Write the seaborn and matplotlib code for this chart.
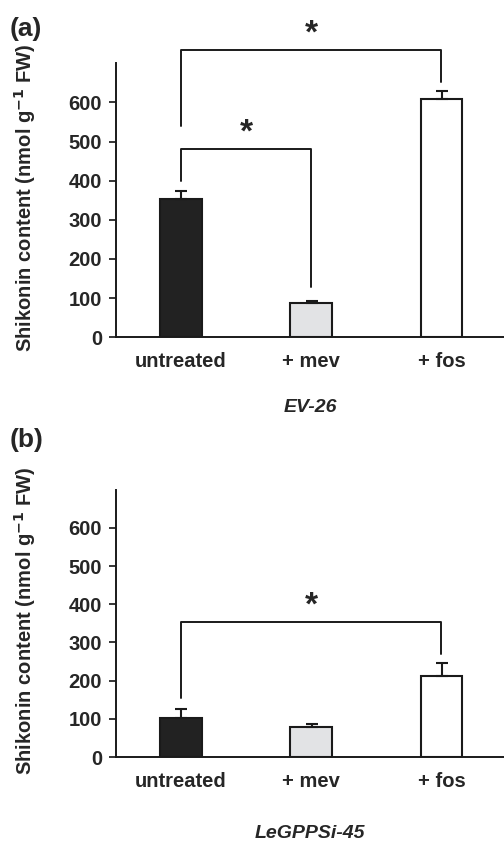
import pandas as pd
import numpy as np
import seaborn as sns
import matplotlib.pyplot as plt

## Data
treatments = ['untreated', '+ mev', '+ fos']
ev26_mean = [352, 87, 608]
ev26_err = [22, 6, 20]
gpps_mean = [102, 78, 212]
gpps_err = [25, 8, 33]
bar_colors = ['#222222', '#e2e3e5', '#ffffff']

## Significance brackets: (left bar, right bar, top, left leg end, right leg end)
ev26_brackets = [(0, 2, 733, 540, 651), (0, 1, 481, 400, 127)]
gpps_brackets = [(0, 2, 353, 154, 270)]

sns.set_style('white')
plt.rcParams['font.family'] = ['Liberation Sans', 'DejaVu Sans']
plt.rcParams['font.weight'] = 'bold'

fig = plt.figure(figsize=(5.04, 8.43), dpi=100)
ax_a = fig.add_axes([0.230, 0.600, 0.770, 0.325])
ax_b = fig.add_axes([0.230, 0.102, 0.770, 0.317])


def draw_panel(ax, means, errs, brackets, strain, xpad):
    df = pd.DataFrame({'treatment': treatments, 'value': means})
    sns.barplot(data=df, x='treatment', y='value', hue='treatment',
                palette=bar_colors, edgecolor='#1a1a1a', linewidth=1.5,
                width=0.32, errorbar=None, legend=False, ax=ax)
    xpos = np.arange(len(treatments))
    ax.errorbar(xpos + 0.003, means, yerr=[np.zeros(len(errs)), errs], fmt='none',
                ecolor='#1a1a1a', elinewidth=1.5, capsize=4, capthick=1.5, zorder=3)
    for x0, x1, top, l0, l1 in brackets:
        ax.plot([x0, x0, x1, x1], [l0, top, top, l1], color='#1a1a1a', lw=1.4,
                clip_on=False)
        ax.text((x0 + x1) / 2, top + 2, '*', ha='center', va='bottom',
                fontsize=24, fontweight='bold', clip_on=False)
    ax.set_ylim(0, 700)
    ax.set_xlim(-0.5, 2.48)
    ax.set_yticks(range(0, 700, 100))
    ax.tick_params(axis='y', direction='out', length=5, width=1.3, left=True,
                   labelsize=14.5, pad=5)
    ax.tick_params(axis='x', length=0, labelsize=14.5, pad=11)
    for lab in ax.get_xticklabels() + ax.get_yticklabels():
        lab.set_fontweight('bold')
    sns.despine(ax=ax)
    ax.spines['left'].set_linewidth(1.4)
    ax.spines['bottom'].set_linewidth(1.4)
    ax.spines['left'].set_color('#1a1a1a')
    ax.spines['bottom'].set_color('#1a1a1a')
    ax.set_ylabel('Shikonin content (nmol g$^{\\mathbf{-1}}$ FW)', fontsize=14.5,
                  fontweight='bold')
    ax.yaxis.set_label_coords(-0.20, 0.51)
    ax.set_xlabel(strain, fontsize=14, fontweight='bold', style='italic',
                  labelpad=xpad)


draw_panel(ax_a, ev26_mean, ev26_err, ev26_brackets, 'EV-26', 20)
draw_panel(ax_b, gpps_mean, gpps_err, gpps_brackets, 'LeGPPSi-45', 24)

fig.text(0.020, 0.966, '(a)', fontsize=19, fontweight='bold', va='center')
fig.text(0.020, 0.478, '(b)', fontsize=19, fontweight='bold', va='center')

plt.savefig('out.png', dpi=100)
